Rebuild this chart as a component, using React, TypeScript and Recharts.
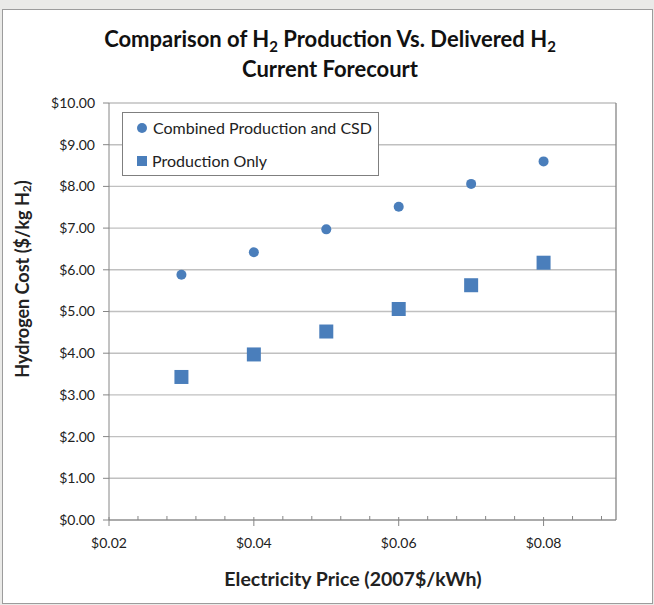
import { ScatterChart, Scatter, XAxis, YAxis, CartesianGrid, ReferenceLine, Legend, Label } from 'recharts'

const prices = [0.03, 0.04, 0.05, 0.06, 0.07, 0.08]
const combinedCost = [5.88, 6.42, 6.97, 7.51, 8.06, 8.6]
const productionCost = [3.43, 3.97, 4.52, 5.06, 5.63, 6.17]

const xTicks = [0.02, 0.04, 0.06, 0.08]
const xMinorTicks = [0.024, 0.028, 0.032, 0.036, 0.044, 0.048, 0.052, 0.056, 0.064, 0.068, 0.072, 0.076, 0.084, 0.088]
const yTicks = [0, 1, 2, 3, 4, 5, 6, 7, 8, 9, 10]

const BLUE = '#4a7ebb'
const AXIS = '#868686'
const FONT = 'Lato, "Open Sans", sans-serif'
const TICK_SIZE = 6
const TICK_MARGIN = 12

const combinedData = prices.map((x, i) => ({ x, y: combinedCost[i] }))
const productionData = prices.map((x, i) => ({ x, y: productionCost[i] }))
const allXTicks = [...xTicks, ...xMinorTicks].sort((a, b) => a - b)

const money = (v: number) => `$${v.toFixed(2)}`

const Dot = (props: any) => <circle cx={props.cx} cy={props.cy} r={5} fill={BLUE} />
const Square = (props: any) => (
  <rect x={props.cx - 7} y={props.cy - 7} width={14} height={14} fill={BLUE} />
)

// major ticks cross the axis and carry a label, minor ones are short marks inside
function XTick({ x, y, payload }: any) {
  const axisY = y - TICK_SIZE - TICK_MARGIN
  const major = xTicks.some((t) => Math.abs(t - payload.value) < 1e-9)
  if (!major) return <line x1={x} x2={x} y1={axisY - 4} y2={axisY} stroke={AXIS} />
  return (
    <g>
      <line x1={x} x2={x} y1={axisY - 3} y2={axisY + TICK_SIZE} stroke={AXIS} />
      <text x={x} y={y} dy="0.71em" textAnchor="middle" fontFamily={FONT} fontSize={14} fill="#222">
        {money(payload.value)}
      </text>
    </g>
  )
}

function LegendBox() {
  const row = { display: 'flex', alignItems: 'center', height: 33, fontSize: 16, color: '#222' }
  return (
    <div style={{ border: '1.5px solid #7f7f7f', background: '#fff', width: 257, height: 64, boxSizing: 'border-box', fontFamily: FONT, padding: '0 0 0 12px' }}>
      <div style={{ ...row, marginTop: -2 }}>
        <span style={{ width: 10, height: 10, borderRadius: 5, background: BLUE, marginRight: 6, marginLeft: 2 }} />
        Combined Production and CSD
      </div>
      <div style={row}>
        <span style={{ width: 10, height: 10, background: BLUE, marginRight: 5, marginLeft: 2 }} />
        Production Only
      </div>
    </div>
  )
}

function YTitle({ viewBox }: any) {
  const cx = viewBox.x - 27
  const cy = 279
  return (
    <text x={cx} y={cy} transform={`rotate(-90 ${cx} ${cy})`} textAnchor="middle" dominantBaseline="central"
      fontFamily={FONT} fontWeight={700} fontSize={18} fill="#222">
      Hydrogen Cost ($/kg H<tspan fontSize={12} dy={4}>2</tspan><tspan dy={-4}>)</tspan>
    </text>
  )
}

function XTitle({ viewBox }: any) {
  return (
    <text x={353} y={viewBox.y + 66} textAnchor="middle" fontFamily={FONT} fontWeight={700} fontSize={19.5} fill="#222">
      Electricity Price (2007$/kWh)
    </text>
  )
}

export default function App() {
  return (
    <div style={{ position: 'absolute', left: 0, top: 0, width: 654, height: 605, background: '#eaeae8', overflow: 'hidden' }}>
      <div style={{ position: 'absolute', left: 2, top: 9, width: 651, height: 595, boxSizing: 'border-box', border: '1.5px solid #9c9c9c', background: '#fff' }} />
      <div style={{ position: 'absolute', left: 0, top: 25, width: 660, textAlign: 'center', fontFamily: FONT, fontWeight: 700, fontSize: 22, lineHeight: '27px', color: '#111' }}>
        Comparison of H<span style={{ fontSize: 15, position: 'relative', top: 5 }}>2</span> Production Vs. Delivered H<span style={{ fontSize: 15, position: 'relative', top: 5 }}>2</span>
        <br />
        Current Forecourt
      </div>
      <div style={{ position: 'absolute', left: 0, top: 0 }}>
        <ScatterChart width={654} height={605} margin={{ top: 103, right: 38, bottom: 45, left: 49 }}>
          <CartesianGrid horizontal vertical={false} stroke="#c0c0c0" strokeWidth={1.4} />
          <XAxis
            dataKey="x"
            type="number"
            domain={[0.02, 0.09]}
            ticks={allXTicks}
            height={40}
            stroke={AXIS}
            tickLine={false}
            tickSize={TICK_SIZE}
            tickMargin={TICK_MARGIN}
            tick={<XTick />}
            interval={0}
          >
            <Label content={<XTitle />} />
          </XAxis>
          <YAxis
            dataKey="y"
            type="number"
            domain={[0, 10]}
            ticks={yTicks}
            tickFormatter={money}
            width={60}
            stroke={AXIS}
            tickSize={6}
            tickMargin={8}
            tick={{ fill: '#222', fontSize: 14, fontFamily: FONT }}
          >
            <Label content={<YTitle />} />
          </YAxis>
          <ReferenceLine x={0.09} stroke={AXIS} strokeWidth={1.3} ifOverflow="visible" />
          <Legend
            verticalAlign="middle"
            layout="horizontal"
            content={() => <LegendBox />}
            wrapperStyle={{ left: 122, top: 112, width: 257, height: 64 }}
          />
          <Scatter name="Combined Production and CSD" data={combinedData} fill={BLUE} shape={Dot} isAnimationActive={false} />
          <Scatter name="Production Only" data={productionData} fill={BLUE} shape={Square} isAnimationActive={false} />
        </ScatterChart>
      </div>
    </div>
  )
}
